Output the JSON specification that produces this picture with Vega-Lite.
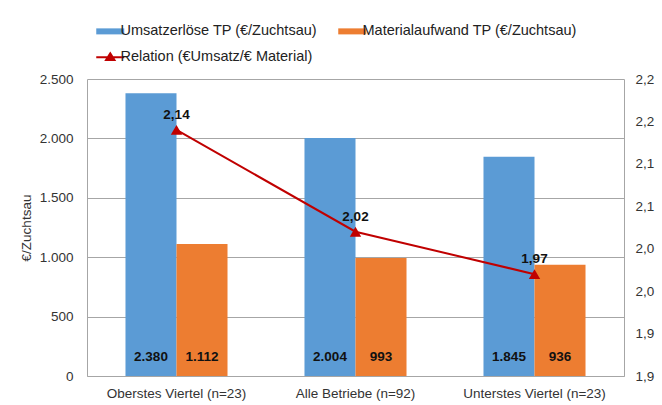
{
  "$schema": "https://vega.github.io/schema/vega-lite/v6.json",
  "width": 537,
  "height": 297,
  "autosize": "none",
  "padding": {"left": 87, "top": 79, "right": 38, "bottom": 29},
  "config": {
    "font": "Liberation Sans",
    "locale": {"number": {"decimal": ",", "thousands": ".", "grouping": [3], "currency": ["", " €"]}},
    "view": {"stroke": null},
    "axis": {"labelFont": "Liberation Sans", "labelFontSize": 13.5, "labelColor": "#333333", "titleFont": "Liberation Sans", "titleFontWeight": "normal", "titleColor": "#333333", "domainColor": "#a6a6a6", "gridColor": "#a6a6a6", "tickSize": 0}
  },
  "datasets": {
    "bars": [
      {"Gruppe": "Oberstes Viertel (n=23)", "Serie": "Umsatzerlöse TP (€/Zuchtsau)", "Wert": 2380},
      {"Gruppe": "Oberstes Viertel (n=23)", "Serie": "Materialaufwand TP (€/Zuchtsau)", "Wert": 1112},
      {"Gruppe": "Alle Betriebe (n=92)", "Serie": "Umsatzerlöse TP (€/Zuchtsau)", "Wert": 2004},
      {"Gruppe": "Alle Betriebe (n=92)", "Serie": "Materialaufwand TP (€/Zuchtsau)", "Wert": 993},
      {"Gruppe": "Unterstes Viertel (n=23)", "Serie": "Umsatzerlöse TP (€/Zuchtsau)", "Wert": 1845},
      {"Gruppe": "Unterstes Viertel (n=23)", "Serie": "Materialaufwand TP (€/Zuchtsau)", "Wert": 936}
    ],
    "relation": [
      {"Gruppe": "Oberstes Viertel (n=23)", "Serie": "Relation (€Umsatz/€ Material)", "Relation": 2.14},
      {"Gruppe": "Alle Betriebe (n=92)", "Serie": "Relation (€Umsatz/€ Material)", "Relation": 2.02},
      {"Gruppe": "Unterstes Viertel (n=23)", "Serie": "Relation (€Umsatz/€ Material)", "Relation": 1.97}
    ]
  },
  "encoding": {
    "x": {
      "field": "Gruppe", "type": "nominal",
      "sort": ["Oberstes Viertel (n=23)", "Alle Betriebe (n=92)", "Unterstes Viertel (n=23)"],
      "scale": {"paddingInner": 0.43, "paddingOuter": 0.215},
      "axis": {"title": null, "labelAngle": 0, "labelPadding": 10, "domainColor": "#a6a6a6"}
    }
  },
  "layer": [
    {
      "data": {"name": "bars"},
      "encoding": {
        "xOffset": {"field": "Serie", "type": "nominal", "sort": ["Umsatzerlöse TP (€/Zuchtsau)", "Materialaufwand TP (€/Zuchtsau)"], "scale": {"padding": 0, "paddingInner": 0}},
        "y": {
          "field": "Wert", "type": "quantitative",
          "scale": {"domain": [0, 2500], "nice": false},
          "axis": {"title": "€/Zuchtsau", "titleFontSize": 13.5, "values": [0, 500, 1000, 1500, 2000, 2500], "format": ",.0f", "labelPadding": 14, "titlePadding": 6, "grid": true, "domain": true}
        }
      },
      "layer": [
        {
          "mark": {"type": "bar"},
          "encoding": {
            "color": {
              "field": "Serie", "type": "nominal",
              "scale": {
                "domain": ["Umsatzerlöse TP (€/Zuchtsau)", "Materialaufwand TP (€/Zuchtsau)", "Relation (€Umsatz/€ Material)"],
                "range": ["#5B9BD5", "#ED7D31", "#C00000"]
              },
              "legend": {
                "title": null,
                "orient": "none",
                "legendX": 16,
                "legendY": -55,
                "columns": 2,
                "direction": "horizontal",
                "padding": 0,
                "columnPadding": 20,
                "rowPadding": 11,
                "labelFont": "Liberation Sans",
                "labelFontSize": 14.5,
                "labelColor": "#222222",
                "labelLimit": 400,
                "labelOffset": 3,
                "symbolSize": 196,
                "symbolType": "M-2,-0.43H2V0.43H-2Z",
                "encode": {
                  "symbols": {
                    "update": {
                      "shape": {"signal": "datum.value == 'Relation (€Umsatz/€ Material)' ? 'M-2,0H2M0,-0.55L0.6,0.4H-0.6Z' : 'M-2,-0.43H2V0.43H-2Z'"},
                      "fill": {"scale": "color", "field": "value"},
                      "stroke": {"scale": "color", "field": "value"},
                      "strokeWidth": {"signal": "datum.value == 'Relation (€Umsatz/€ Material)' ? 2 : 0"},
                      "opacity": {"value": 1},
                      "fillOpacity": {"value": 1}
                    }
                  }
                }
              }
            }
          }
        },
        {
          "mark": {"type": "text", "fontWeight": "bold", "fontSize": 13.5, "color": "#111111", "baseline": "middle", "dy": -19},
          "encoding": {
            "y": {"datum": 0},
            "text": {"field": "Wert", "type": "quantitative", "format": ",.0f"}
          }
        }
      ]
    },
    {
      "data": {"name": "relation"},
      "encoding": {
        "y": {
          "field": "Relation", "type": "quantitative",
          "scale": {"domain": [1.85, 2.2], "nice": false, "zero": false},
          "axis": {"orient": "right", "title": null, "values": [1.85, 1.9, 1.95, 2.0, 2.05, 2.1, 2.15, 2.2], "labelExpr": "replace(format(datum.value + 0.000001, '.1f'), '.', ',')", "labelPadding": 11, "grid": false, "domain": true}
        }
      },
      "layer": [
        {
          "mark": {"type": "line", "strokeWidth": 2},
          "encoding": {"color": {"field": "Serie", "type": "nominal"}}
        },
        {
          "mark": {"type": "point", "shape": "triangle-up", "size": 130, "filled": true, "opacity": 1},
          "encoding": {"color": {"field": "Serie", "type": "nominal"}}
        },
        {
          "mark": {"type": "text", "fontWeight": "bold", "fontSize": 13.5, "color": "#111111", "baseline": "middle", "dy": -15},
          "encoding": {"text": {"field": "Relation", "type": "quantitative", "format": ".2f"}}
        }
      ]
    }
  ],
  "resolve": {"scale": {"y": "independent"}}
}
